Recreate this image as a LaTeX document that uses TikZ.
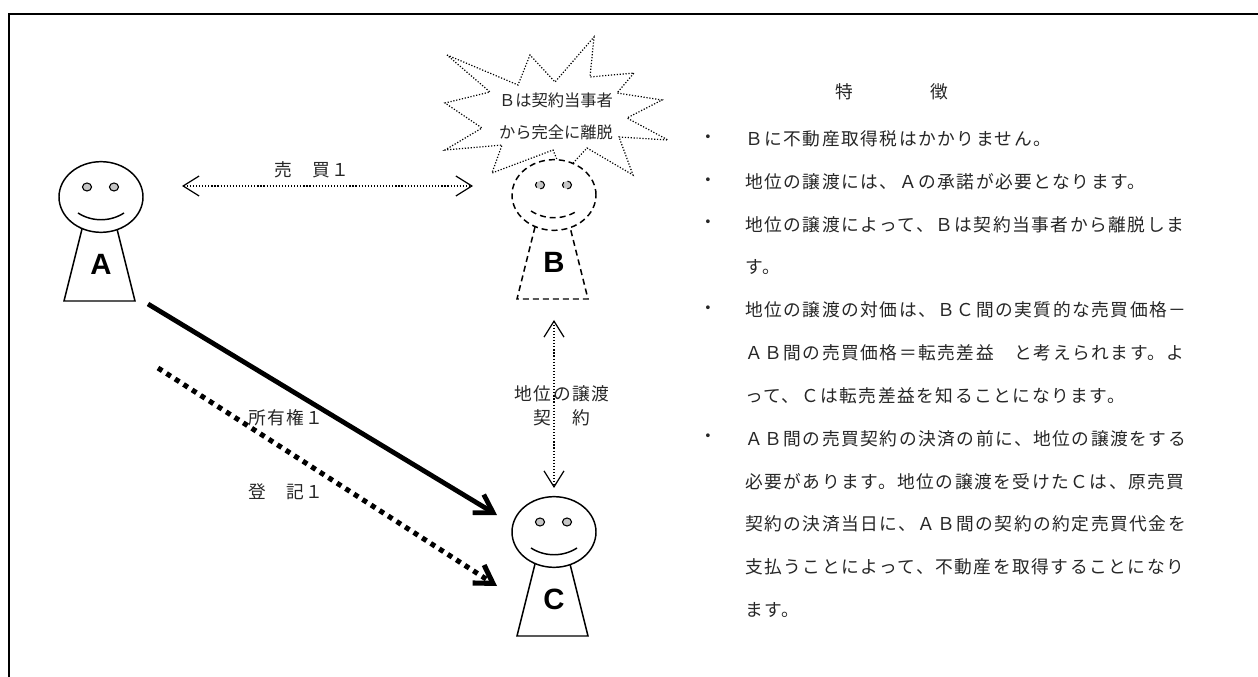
\documentclass[tikz,border=0pt]{standalone}
\usepackage{fontspec}
\setsansfont{Liberation Sans}
\newfontfamily\jp{Noto Sans CJK JP}
\newfontfamily\jpw{Noto Sans CJK JP}[LetterSpace=8.5]
\usetikzlibrary{arrows.meta}
\tikzset{
  fig/.style={line width=1.1pt},
  figd/.style={line width=1.1pt, dash pattern=on 4.5pt off 3pt},
  thindot/.style={line width=0.9pt, dash pattern=on 0.9pt off 1.4pt},
  burst/.style={line width=0.9pt, dash pattern=on 0.9pt off 1.3pt},
  heavy/.style={line width=3.6pt},
  heavydot/.style={line width=3.8pt, dash pattern=on 3.8pt off 3.8pt},
  lab/.style={font=\sffamily\bfseries\fontsize{22}{22}\selectfont, inner sep=0pt},
  txt/.style={font=\jpw\fontsize{13.3}{13.3}\selectfont, inner sep=0pt, anchor=west, text=black!85},
  bul/.style={font=\jp\fontsize{13.3}{13.3}\selectfont, inner sep=0pt, text=black!85},
  lbl/.style={font=\jpw\fontsize{13.3}{13.3}\selectfont, inner sep=0pt, text=black!85},
  btxt/.style={font=\jp\fontsize{12.2}{12.2}\selectfont, inner sep=0pt, text=black!85},
  thinhead/.tip={Straight Barb[length=12pt,width=15pt]},
  bighead/.tip={Straight Barb[length=13pt,width=16pt]}
}
\newcommand\drawperson[4]{%
  \begin{scope}[shift={(#1,#2)}]
    \draw[#4] (-19,32) -- (-37,104) -- (34,104) -- (16,32);
    \draw[#4, fill=white] (0,0) ellipse [x radius=31.5pt, y radius=26.5pt];
    \draw[#4, fill=gray!45, line width=0.8pt] (-14,-10) ellipse [x radius=3.4pt, y radius=3pt];
    \draw[#4, fill=gray!45, line width=0.8pt] (13,-10) ellipse [x radius=3.4pt, y radius=3pt];
    \draw[#4] (-23,16) .. controls (-9,25) and (9,25) .. (23,16);
    \node[lab] at (0,67) {#3};
  \end{scope}}
\begin{document}
\begin{tikzpicture}[x=0.75pt,y=-0.75pt]
\useasboundingbox (0,0) rectangle (1258,677);
% frame
\draw[line width=1.6pt] (9,677) -- (9,14) -- (1258,14);

% starburst
\draw[burst] (447,55) -- (518,85) -- (530,55) -- (555,82) -- (594,37) -- (590,77)
  -- (634,73) -- (617,93) -- (662,100) -- (627,118) -- (668,140) -- (619,137)
  -- (633,175) -- (587,148) -- (563,174) -- (553,150) -- (492,173) -- (502,145)
  -- (445,150) -- (482,128) -- (445,103) -- (490,92) -- cycle;
\node[btxt] (bt1) at (556,100) {Ｂは契約当事者};
\node[btxt] (bt2) at (556,132) {から完全に離脱};

% persons
\node[inner sep=0pt] (A) at (101,197) {};
\node[inner sep=0pt] (B) at (554,195) {};
\node[inner sep=0pt] (C) at (554,532) {};
\drawperson{101}{197}{A}{fig}
\drawperson{554}{195}{B}{figd}
\drawperson{554}{532}{C}{fig}

% connector end points
\coordinate (m1) at (182,186);
\coordinate (m2) at (473,186);
\coordinate (v1) at (554,320);
\coordinate (v2) at (554,488);
\coordinate (t1) at (148,304);
\coordinate (t2) at (497,515);
\coordinate (d1) at (158,368);
\coordinate (d2) at (497,586);

\draw[thindot, thinhead-thinhead] (m1) -- (m2);
\draw[thindot, thinhead-thinhead] (v1) -- (v2);
\draw[heavy, -bighead] (t1) -- (t2);
\draw[heavydot, -bighead] (d1) -- (d2);

% labels
\node[lbl] (l1) at (312,170) {売　買１};
\node[lbl] (l2) at (286,418) {所有権１};
\node[lbl] (l3) at (286,492) {登　記１};
\node[lbl] (l4) at (562,394) {地位の譲渡};
\node[lbl] (l5) at (562,418) {契　約};

% right column
\node[bul] (h) at (892,92) {特\hspace{58pt}徴};
\foreach \i/\b/\t in {
  1/1/Ｂに不動産取得税はかかりません。,
  2/1/地位の譲渡には、Ａの承諾が必要となります。,
  3/1/地位の譲渡によって、Ｂは契約当事者から離脱しま,
  4/0/す。,
  5/1/地位の譲渡の対価は、ＢＣ間の実質的な売買価格－,
  6/0/ＡＢ間の売買価格＝転売差益　と考えられます。よ,
  7/0/って、Ｃは転売差益を知ることになります。,
  8/1/ＡＢ間の売買契約の決済の前に、地位の譲渡をする,
  9/0/必要があります。地位の譲渡を受けたＣは、原売買,
  10/0/契約の決済当日に、ＡＢ間の契約の約定売買代金を,
  11/0/支払うことによって、不動産を取得することになり,
  12/0/ます。}{
  \node[txt] (r\i) at (745,{139+42.8*(\i-1)}) {\t};
  \ifnum\b=1 \node[bul] (s\i) at (708,{139+42.8*(\i-1)}) {・}; \fi
}
\end{tikzpicture}
\end{document}
